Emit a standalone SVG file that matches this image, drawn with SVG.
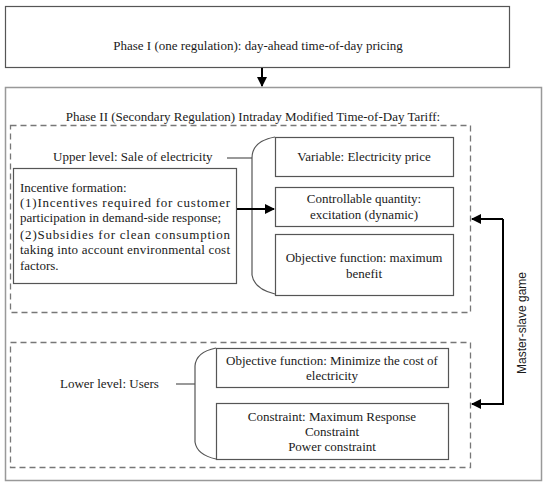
<svg xmlns="http://www.w3.org/2000/svg" width="550" height="487" viewBox="0 0 550 487">
<style>
text{font-family:"Liberation Serif","Times New Roman",serif;font-size:13px;fill:#1a1a1a}
.c{text-anchor:middle}
.box{fill:#fff;stroke:#555;stroke-width:1.2}
.dash{fill:none;stroke:#777;stroke-width:1.3;stroke-dasharray:6,4}
.ln{fill:none;stroke:#555;stroke-width:1.2}
.arr{fill:none;stroke:#000;stroke-width:2}
.ms{font-family:"Liberation Sans",Arial,sans-serif;font-size:12px}
</style>
<defs>
<marker id="ah" markerWidth="10" markerHeight="10" refX="9" refY="5" orient="auto" markerUnits="userSpaceOnUse">
<path d="M0,0 L10,5 L0,10 Z" fill="#000"/>
</marker>
</defs>
<rect width="550" height="487" fill="#fff"/>
<g id="phase1">
<rect class="box" x="5.5" y="6.5" width="504" height="61" stroke="#444"/>
<text class="c" x="258" y="50">Phase I (one regulation): day-ahead time-of-day pricing</text>
</g>
<g id="phase2">
<rect x="5.5" y="87.5" width="536" height="393" fill="none" stroke="#999" stroke-width="1.5"/>
<text class="c" x="253" y="121">Phase II (Secondary Regulation) Intraday Modified Time-of-Day Tariff:</text>
</g>
<g id="upper">
<rect class="dash" x="10.5" y="125.5" width="460" height="187"/>
<text x="53" y="161">Upper level: Sale of electricity</text>
<path class="ln" d="M227,158 L252,158"/>
<path class="ln" d="M275,137 Q252,141 252,158 L252,275 Q254,289 275,294"/>
</g>
<g id="incentive">
<rect class="box" x="13.5" y="168.5" width="223" height="115"/>
<text x="20" y="192">Incentive formation:</text>
<text x="20" y="207" textLength="210" lengthAdjust="spacing">(1)Incentives required for customer</text>
<text x="20" y="222">participation in demand-side response;</text>
<text x="20" y="239" textLength="210" lengthAdjust="spacing">(2)Subsidies for clean consumption</text>
<text x="20" y="254" textLength="210" lengthAdjust="spacing">taking into account environmental cost</text>
<text x="20" y="270">factors.</text>
</g>
<g id="variable">
<rect class="box" x="275.5" y="137.5" width="178" height="39"/>
<text class="c" x="364" y="161">Variable: Electricity price</text>
</g>
<g id="controllable">
<rect class="box" x="275.5" y="187.5" width="178" height="39"/>
<text class="c" x="364" y="203">Controllable quantity:</text>
<text class="c" x="364" y="219">excitation (dynamic)</text>
</g>
<g id="objective-upper">
<rect class="box" x="275.5" y="234.5" width="178" height="61"/>
<text class="c" x="364" y="262">Objective function: maximum</text>
<text class="c" x="364" y="278">benefit</text>
</g>
<g id="lower">
<rect class="dash" x="10.5" y="342.5" width="460" height="125"/>
<text x="60" y="388">Lower level: Users</text>
<path class="ln" d="M176,384 L195,384"/>
<path class="ln" d="M216,348 Q196,352 195,366 L195,442 Q197,455 216,459"/>
</g>
<g id="objective-lower">
<rect class="box" x="216.5" y="348.5" width="232" height="39"/>
<text class="c" x="332" y="365">Objective function: Minimize the cost of</text>
<text class="c" x="332" y="380">electricity</text>
</g>
<g id="constraint">
<rect class="box" x="216.5" y="403.5" width="232" height="56"/>
<text class="c" x="332" y="421">Constraint: Maximum Response</text>
<text class="c" x="332" y="436">Constraint</text>
<text class="c" x="332" y="451">Power constraint</text>
</g>
<g id="connectors">
<path class="arr" d="M262,68 L262,86" marker-end="url(#ah)"/>
<path class="arr" d="M237,209 L274,209" marker-end="url(#ah)"/>
<path class="arr" d="M503,219 L503,404 L472,404" marker-end="url(#ah)"/>
<path class="arr" d="M503,219 L472,219" marker-end="url(#ah)"/>
</g>
<text class="ms" transform="translate(526,323) rotate(-90)" text-anchor="middle">Master-slave game</text>
</svg>
